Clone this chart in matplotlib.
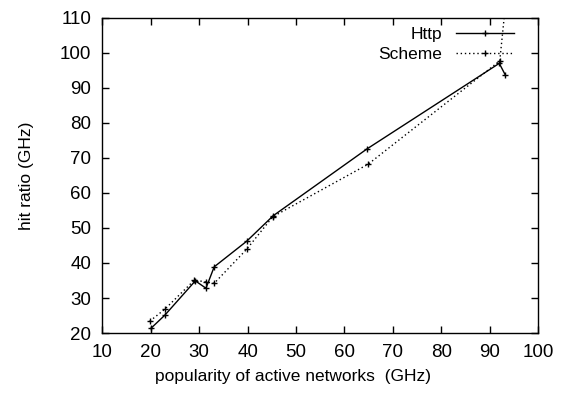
import matplotlib
matplotlib.use("Agg")
import matplotlib.pyplot as plt

plt.rcParams['font.family'] = ['Liberation Sans', 'DejaVu Sans']

http_x = [20.0, 22.9, 29.2, 31.4, 33.1, 39.8, 45.3, 64.7, 92.0, 93.2]
http_y = [21.3, 25.1, 34.9, 32.8, 38.9, 46.2, 53.5, 72.6, 97.0, 93.8]

scheme_x = [19.8, 22.9, 29.0, 31.4, 33.1, 39.8, 45.2, 64.9, 92.1, 93.3]
scheme_y = [23.4, 26.8, 35.1, 34.6, 34.2, 43.9, 53.2, 68.2, 97.7, 114.0]

xticks = [10, 20, 30, 40, 50, 60, 70, 80, 90, 100]
yticks = [20, 30, 40, 50, 60, 70, 80, 90, 100, 110]

fig = plt.figure(figsize=(5.61, 3.96), dpi=100)
ax = fig.add_axes([0.1825, 0.159, 0.7765, 0.796])

ax.plot(http_x, http_y, color='black', lw=1.0, marker='+', ms=5, mew=1.0,
        label='Http')
ax.plot(scheme_x, scheme_y, color='black', lw=1.0, ls=(0, (1, 2)), marker='+',
        ms=5, mew=1.0, label='Scheme')

ax.set_xlim(10, 100)
ax.set_ylim(20, 110)
ax.set_xticks(xticks)
ax.set_yticks(yticks)
ax.tick_params(direction='in', length=5, width=1, top=True, right=True,
               labelsize=13.5)
ax.tick_params(axis='y', pad=8)
ax.tick_params(axis='x', pad=8)
for s in ax.spines.values():
    s.set_linewidth(1.0)

ax.set_xlabel('popularity of active networks  (GHz)', fontsize=12.5)
ax.xaxis.set_label_coords(0.438, -0.115)
ax.set_ylabel('hit ratio (GHz)', fontsize=12.5)
ax.yaxis.set_label_coords(-0.158, 0.5)

leg = ax.legend(loc='upper right', bbox_to_anchor=(0.968, 1.004), frameon=False,
                markerfirst=False, fontsize=12.5, handlelength=3.3,
                handletextpad=0.8, labelspacing=0.25, borderaxespad=0.2)

fig.savefig('out.png', dpi=100)
